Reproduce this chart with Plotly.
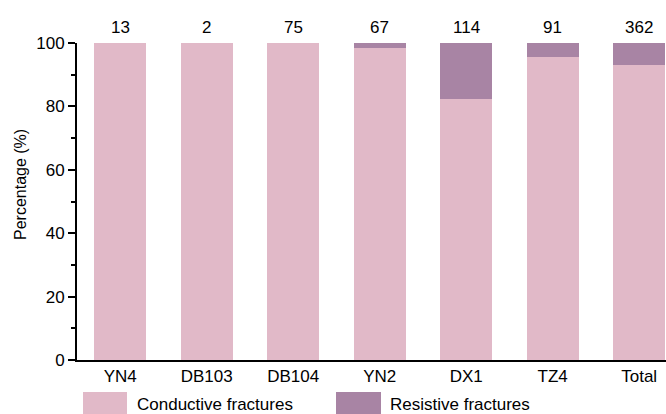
import plotly.graph_objects as go

wells = ["YN4", "DB103", "DB104", "YN2", "DX1", "TZ4", "Total"]
counts = [13, 2, 75, 67, 114, 91, 362]
conductive_pct = [100, 100, 100, 98.5, 82.3, 95.6, 93.1]
resistive_pct = [round(100 - v, 1) for v in conductive_pct]

pink = "#E1B9C8"
purple = "#A884A4"
font_family = "Liberation Sans, Arial, sans-serif"
fs = 17

W, H = 666, 414
L, T, B = 77, 43, 54
plot_h = H - T - B
plot_w = W - L

fig = go.Figure()
fig.add_trace(go.Bar(x=wells, y=conductive_pct, name="Conductive fractures",
                     marker=dict(color=pink, line=dict(width=0)), width=0.6,
                     showlegend=False))
fig.add_trace(go.Bar(x=wells, y=resistive_pct, name="Resistive fractures",
                     marker=dict(color=purple, line=dict(width=0)), width=0.6,
                     showlegend=False))

# sample counts above each bar
for w, c in zip(wells, counts):
    fig.add_annotation(x=w, y=1 + 16 / plot_h, text=str(c), showarrow=False,
                       xref="x", yref="paper", yanchor="middle",
                       font=dict(size=fs, color="black", family=font_family))

# y-axis title, placed slightly above the plot's mid-height
fig.add_annotation(xref="paper", yref="paper", x=-(L - 20) / plot_w,
                   y=(360 - 185) / plot_h, text="Percentage (%)", textangle=-90,
                   showarrow=False, xanchor="center", yanchor="middle",
                   font=dict(size=16, color="black", family=font_family))

# legend drawn as wide swatches below the axis
legend_items = [("Conductive fractures", pink, 83, 127, 135),
                ("Resistive fractures", purple, 336, 381, 388)]
for label, col, x0, x1, tx in legend_items:
    fig.add_shape(type="rect", xref="paper", yref="paper",
                  x0=(x0 - L) / plot_w, x1=(x1 - L) / plot_w,
                  y0=-(414 - 360) / plot_h, y1=-(392 - 360) / plot_h,
                  fillcolor=col, line=dict(width=0))
    fig.add_annotation(xref="paper", yref="paper",
                       x=(tx - L) / plot_w, y=-(404 - 360) / plot_h,
                       text=label, showarrow=False, xanchor="left", yanchor="middle",
                       font=dict(size=fs, color="black", family=font_family))

fig.update_layout(
    barmode="stack",
    width=W, height=H,
    margin=dict(l=L, r=0, t=T, b=B),
    plot_bgcolor="white", paper_bgcolor="white",
    font=dict(family=font_family, size=fs, color="black"),
    bargap=0.4,
)
fig.update_xaxes(range=[-0.5, 6.31], showline=True, linecolor="black", linewidth=2,
                 ticks="", showgrid=False, tickfont=dict(size=fs))
fig.update_yaxes(range=[0, 100], showline=True, linecolor="black", linewidth=2,
                 ticks="outside", ticklen=7, tickwidth=2, tickcolor="black",
                 tickvals=[0, 20, 40, 60, 80, 100], showgrid=False, zeroline=False,
                 minor=dict(ticks="outside", ticklen=4, tickwidth=2, tickcolor="black",
                            tickvals=[10, 30, 50, 70, 90]),
                 tickfont=dict(size=fs))

fig.write_html("out.html")
